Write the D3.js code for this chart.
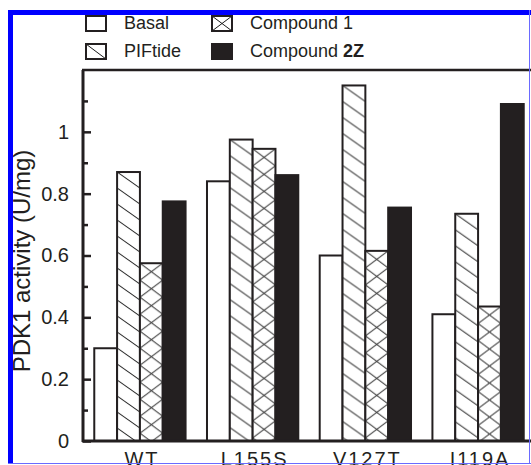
<!DOCTYPE html>
<html>
<head>
<meta charset="utf-8">
<script src="https://cdn.jsdelivr.net/npm/d3@7"></script>
<style>
  html, body { margin: 0; padding: 0; background: #fff; }
  svg { display: block; font-family: "Liberation Sans", Arial, sans-serif; }
</style>
</head>
<body>
<div id="chart"></div>
<script>
// PDK1 activity - grouped bars with hatch patterns

const width = 531, height = 465;

// data
const groups = ["WT", "L155S", "V127T", "I119A"];
const groupLabels = ["WT", "L155S", "V127T", "I119A"];
const series = ["Basal", "PIFtide", "Compound 1", "Compound 2Z"];
const basal      = [0.30, 0.84, 0.60, 0.41];
const piftide    = [0.87, 0.975, 1.15, 0.735];
const compound1  = [0.575, 0.945, 0.615, 0.435];
const compound2z = [0.775, 0.86, 0.755, 1.09];
const majorTicks = [0, 0.2, 0.4, 0.6, 0.8, 1];
const majorLabels = ["0", "0.2", "0.4", "0.6", "0.8", "1"];
const minorTicks = [0.1, 0.3, 0.5, 0.7, 0.9, 1.1];

const seriesValues = [basal, piftide, compound1, compound2z];
const fills = ["white", "hatch", "cross", "solid"];
const ink = "#231f20";

const svg = d3.select("#chart").append("svg")
  .attr("width", width)
  .attr("height", height);

const defs = svg.append("defs");

// scales
const y = d3.scaleLinear().domain([0, 1.2]).range([441, 70]);
const x0 = d3.scaleBand().domain(groups).range([83, 535])
  .paddingInner(0.19).paddingOuter(0.1);
const x1 = d3.scaleBand().domain(series).range([0, x0.bandwidth()]).padding(0);

// pattern tile anchored at (px, py), tile w x h
let patId = 0;
function makePattern(kind, px, py, w, h) {
  const id = "p" + (patId++);
  const p = defs.append("pattern")
    .attr("id", id)
    .attr("patternUnits", "userSpaceOnUse")
    .attr("x", px).attr("y", py)
    .attr("width", w).attr("height", h);
  p.append("rect").attr("width", w).attr("height", h).attr("fill", "white");
  const lines = kind === "hatch"
    ? [[0, 0, w, h], [-w, -h, 0, 0], [w, h, 2 * w, 2 * h]]
    : [[0, 0, w, h], [w, 0, 0, h]];
  lines.forEach(l => {
    p.append("line")
      .attr("x1", l[0]).attr("y1", l[1]).attr("x2", l[2]).attr("y2", l[3])
      .attr("stroke", "#1a1a1a").attr("stroke-width", 1);
  });
  return "url(#" + id + ")";
}

function fillFor(kind, px, py, w, h) {
  if (kind === "white") return "white";
  if (kind === "solid") return ink;
  return makePattern(kind, px, py, w, h);
}

// bars
groups.forEach((g, gi) => {
  series.forEach((s, si) => {
    const v = seriesValues[si][gi];
    const bx = x0(g) + x1(s);
    const bw = x1.bandwidth();
    svg.append("rect")
      .attr("x", bx)
      .attr("y", y(v))
      .attr("width", bw)
      .attr("height", y(0) - y(v))
      .attr("fill", fillFor(fills[si], bx, y(v), bw, si === 1 ? 16 : 17))
      .attr("stroke", ink)
      .attr("stroke-width", 2);
  });
});

// y axis: ticks point inwards
svg.append("g")
  .attr("transform", "translate(83,0)")
  .call(d3.axisLeft(y).tickValues(majorTicks)
    .tickFormat((d, i) => majorLabels[i])
    .tickSizeInner(-8).tickSizeOuter(0).tickPadding(14))
  .call(g => g.select(".domain").remove())
  .call(g => g.selectAll("line").attr("stroke", ink).attr("stroke-width", 2.5))
  .call(g => g.selectAll("text").attr("font-size", 20)
    .attr("font-family", "Liberation Sans, Arial, sans-serif").attr("fill", ink));

svg.append("g")
  .attr("transform", "translate(83,0)")
  .call(d3.axisLeft(y).tickValues(minorTicks).tickFormat("")
    .tickSizeInner(-5).tickSizeOuter(0))
  .call(g => g.select(".domain").remove())
  .call(g => g.selectAll("line").attr("stroke", ink).attr("stroke-width", 2.5));

// frame lines
svg.append("line").attr("x1", 83).attr("x2", 83).attr("y1", y(0) + 1).attr("y2", y(1.2))
  .attr("stroke", ink).attr("stroke-width", 3);
svg.append("line").attr("x1", 82).attr("x2", width).attr("y1", y(0)).attr("y2", y(0))
  .attr("stroke", ink).attr("stroke-width", 3);
svg.append("line").attr("x1", 82).attr("x2", width).attr("y1", y(1.2)).attr("y2", y(1.2))
  .attr("stroke", ink).attr("stroke-width", 2.5);

// group labels (cut by the bottom edge, as in the figure)
svg.selectAll(".xlab")
  .data(groups)
  .join("text")
  .attr("x", d => x0(d) + x0.bandwidth() / 2 + 2)
  .attr("y", 466)
  .attr("text-anchor", "middle")
  .attr("font-size", 20)
  .attr("letter-spacing", 2)
  .attr("fill", ink)
  .text((d, i) => groupLabels[i]);

// y label
svg.append("text")
  .attr("transform", "translate(30,261) rotate(-90)")
  .attr("text-anchor", "middle")
  .attr("font-size", 24)
  .attr("fill", ink)
  .text("PDK1 activity (U/mg)");

// legend
const legendPos = [[86, 16], [86, 44], [212, 16], [212, 44]];
series.forEach((s, i) => {
  const [lx, ly] = legendPos[i];
  svg.append("rect")
    .attr("x", lx).attr("y", ly)
    .attr("width", 20).attr("height", 15)
    .attr("fill", fillFor(fills[i], lx, ly, 20, 15))
    .attr("stroke", ink).attr("stroke-width", 2);
  const t = svg.append("text")
    .attr("x", lx + 38).attr("y", ly + 13)
    .attr("font-size", 18)
    .attr("fill", ink);
  if (s === "Compound 2Z") {
    t.append("tspan").text("Compound ");
    t.append("tspan").attr("font-weight", "bold").text("2Z");
  } else {
    t.text(s);
  }
});

// blue frame of the figure
svg.append("line").attr("x1", 8).attr("x2", width).attr("y1", 12.5).attr("y2", 12.5)
  .attr("stroke", "#0000ff").attr("stroke-width", 5);
svg.append("line").attr("x1", 10.5).attr("x2", 10.5).attr("y1", 10).attr("y2", 464)
  .attr("stroke", "#0000ff").attr("stroke-width", 5);
svg.append("line").attr("x1", 529.5).attr("x2", 529.5).attr("y1", 10).attr("y2", 464)
  .attr("stroke", "#6a6aff").attr("stroke-width", 1);
svg.append("line").attr("x1", 8).attr("x2", width).attr("y1", 463.5).attr("y2", 463.5)
  .attr("stroke", "#6a6aff").attr("stroke-width", 1);
</script>
</body>
</html>
